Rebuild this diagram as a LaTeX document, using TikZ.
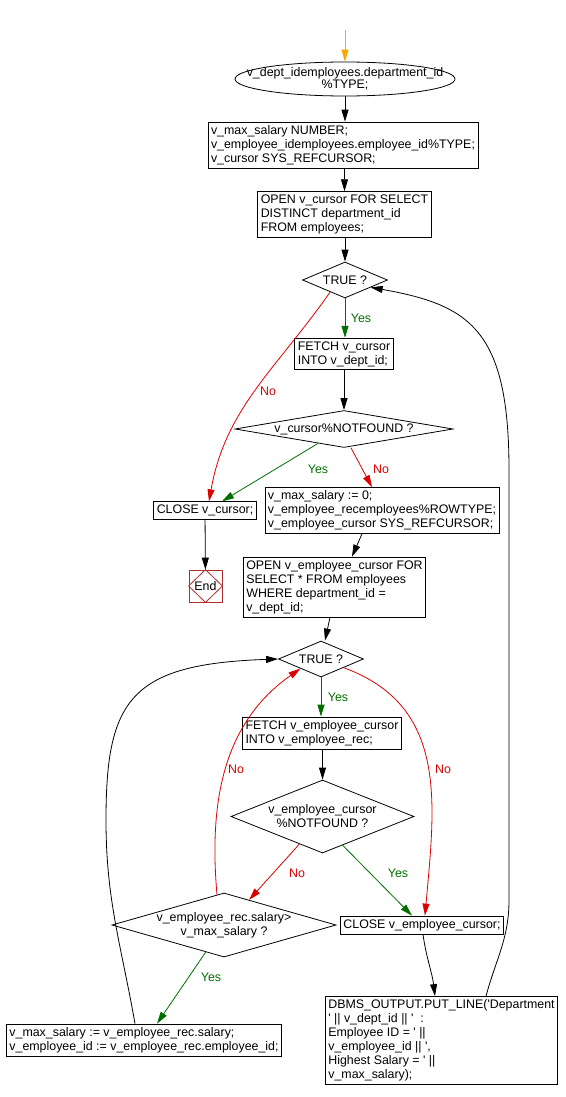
\documentclass[tikz,border=0pt]{standalone}
\usepackage{fontspec}
\setmainfont{Liberation Sans}
\usepackage{tikz}
\usetikzlibrary{arrows.meta, shapes.geometric, calc}
\definecolor{yesc}{RGB}{0,110,0}
\definecolor{noc}{RGB}{220,0,0}
\definecolor{endc}{RGB}{175,45,45}
\definecolor{startc}{RGB}{255,165,0}
\tikzset{
  proc/.style={draw, rectangle, align=left, inner xsep=3pt, inner ysep=3.2pt},
  cond/.style={draw, diamond, align=center, inner sep=0pt},
  flow/.style={-{Triangle[length=12pt,width=7pt]}},
  yesflow/.style={flow, yesc},
  noflow/.style={flow, noc},
}

\begin{document}
\begin{tikzpicture}[x=1pt, y=-1pt, line width=0.8pt, font=\fontsize{12.4}{14}\selectfont]
  \useasboundingbox (0,0) rectangle (565,1097);

  % ---------- cursor over departments ----------
  \coordinate (entry) at (345,30);
  \node[minimum width=220pt, minimum height=34pt, inner sep=0pt, align=center,
        font=\fontsize{12.4}{12.5}\selectfont] (start) at (345,79)
        {v\_dept\_idemployees.department\_id\\\%TYPE;};
  \draw (start.center) ellipse [x radius=110pt, y radius=17pt];
  \node[proc] (decl1) at (343,145)
        {v\_max\_salary NUMBER;\\v\_employee\_idemployees.employee\_id\%TYPE;\\v\_cursor SYS\_REFCURSOR;};
  \node[proc] (open1) at (344.5,214.5)
        {OPEN v\_cursor FOR SELECT\\DISTINCT department\_id\\FROM employees;};
  \node[cond, minimum width=85pt, minimum height=36pt, shape aspect=2.4] (true1) at (345,280) {TRUE ?};
  \node[proc] (fetch1) at (344,354) {FETCH v\_cursor\\INTO v\_dept\_id;};
  \node[cond, minimum width=218pt, minimum height=37pt, shape aspect=5.9] (nf1) at (344,429) {v\_cursor\%NOTFOUND ?};
  \node[proc] (close1) at (205,510.5) {CLOSE v\_cursor;};
  \node[draw=endc, minimum width=33pt, minimum height=32pt, inner sep=0pt] (endn) at (205.5,586) {End};
  \draw[endc] (endn.north) -- (endn.east) -- (endn.south) -- (endn.west) -- cycle;

  % ---------- cursor over employees ----------
  \node[proc] (decl2) at (382,510.5)
        {v\_max\_salary := 0;\\v\_employee\_recemployees\%ROWTYPE;\\v\_employee\_cursor SYS\_REFCURSOR;};
  \node[proc] (open2) at (334.5,587)
        {OPEN v\_employee\_cursor FOR\\SELECT * FROM employees\\WHERE department\_id =\\v\_dept\_id;};
  \node[cond, minimum width=85pt, minimum height=36pt, shape aspect=2.4] (true2) at (321,659) {TRUE ?};
  \node[proc] (fetch2) at (322,733) {FETCH v\_employee\_cursor\\INTO v\_employee\_rec;};
  \node[cond, minimum width=183pt, minimum height=73pt, shape aspect=2.5] (nf2) at (322.5,816.5)
        {v\_employee\_cursor\\\%NOTFOUND ?};
  \node[cond, minimum width=222pt, minimum height=64pt, shape aspect=3.5] (sal) at (224,925)
        {v\_employee\_rec.salary>\\v\_max\_salary ?};
  \node[proc] (close2) at (422,925) {CLOSE v\_employee\_cursor;};
  \node[proc] (upd) at (144,1040)
        {v\_max\_salary := v\_employee\_rec.salary;\\v\_employee\_id := v\_employee\_rec.employee\_id;};
  \node[proc] (dbms) at (441.5,1040.5)
        {DBMS\_OUTPUT.PUT\_LINE(\textquotesingle Department\\\textquotesingle{} || v\_dept\_id || \textquotesingle{}\ \ :\\Employee ID = \textquotesingle{} ||\\v\_employee\_id || \textquotesingle,\\Highest Salary = \textquotesingle{} ||\\v\_max\_salary);};

  % ===== straight flow =====
  \draw[flow, startc] (entry) -- (start);
  \draw[flow] (start) -- (start |- decl1.north);
  \draw[flow] (decl1.south -| open1) -- (open1);
  \draw[flow] (open1.south -| true1) -- (true1);
  \draw[flow] (fetch1.south -| nf1) -- (nf1);
  \draw[flow] (close1) -- (endn);
  \draw[flow] ([xshift=-20pt]decl2.south) -- ([xshift=17.5pt]open2.north);
  \draw[flow] ([xshift=-4.5pt]open2.south) -- ([xshift=4pt]true2.north);
  \draw[flow] (fetch2.south -| nf2) -- (nf2);
  \draw[flow] ([xshift=1pt]close2.south) to[out=-82,in=97] ([xshift=-6.5pt]dbms.north);

  % ===== yes branches =====
  \draw[yesflow] (true1.south) -- (true1.south |- fetch1.north);
  \draw[yesflow] (nf1.209) -- ([xshift=17pt]close1.north);
  \draw[yesflow] (true2.south) -- (true2.south |- fetch2.north);
  \draw[yesflow] (nf2.305) -- ([xshift=-10pt]close2.north);
  \draw[yesflow] (sal.236) -- ([xshift=13pt]upd.north);

  % ===== no branches =====
  \draw[noflow] (true1.219) to[out=235,in=80] ([xshift=4pt]close1.north);
  \draw[noflow] ([xshift=7pt]nf1.south) -- ([xshift=-10pt]decl2.north);
  \draw[noflow] (true2.339) to[out=-20,in=85,looseness=1.1] ([xshift=3pt]close2.north);
  \draw[noflow] (nf2.230) -- (sal.45);
  \draw[noflow] (sal.103) to[out=95,in=215] (true2.205);

  % ===== loop backs =====
  \coordinate (lpl) at (106,820);
  \draw[flow] ([xshift=-9pt]upd.north) to[out=100,in=-90] (lpl)
        .. controls (106,700) and (130,664) .. (true2.west);
  \coordinate (rpb) at (509,900);
  \coordinate (rpt) at (509,470);
  \draw[flow] ([xshift=44.5pt]dbms.north) to[out=75,in=-90] (rpb) -- (rpt)
        .. controls (509,330) and (470,305) .. (true1.344);

  % ---------- labels ----------
  \node[text=yesc] (ylab1) at (361,318) {Yes};
  \node[text=noc]  (nlab1) at (268,391) {No};
  \node[text=yesc] (ylab2) at (318,469) {Yes};
  \node[text=noc]  (nlab2) at (381,469) {No};
  \node[text=yesc] (ylab3) at (338,697) {Yes};
  \node[text=noc]  (nlab3) at (236,769) {No};
  \node[text=noc]  (nlab4) at (443,769) {No};
  \node[text=noc]  (nlab5) at (297,873) {No};
  \node[text=yesc] (ylab4) at (398,873) {Yes};
  \node[text=yesc] (ylab5) at (211,977) {Yes};

\end{tikzpicture}
\end{document}
